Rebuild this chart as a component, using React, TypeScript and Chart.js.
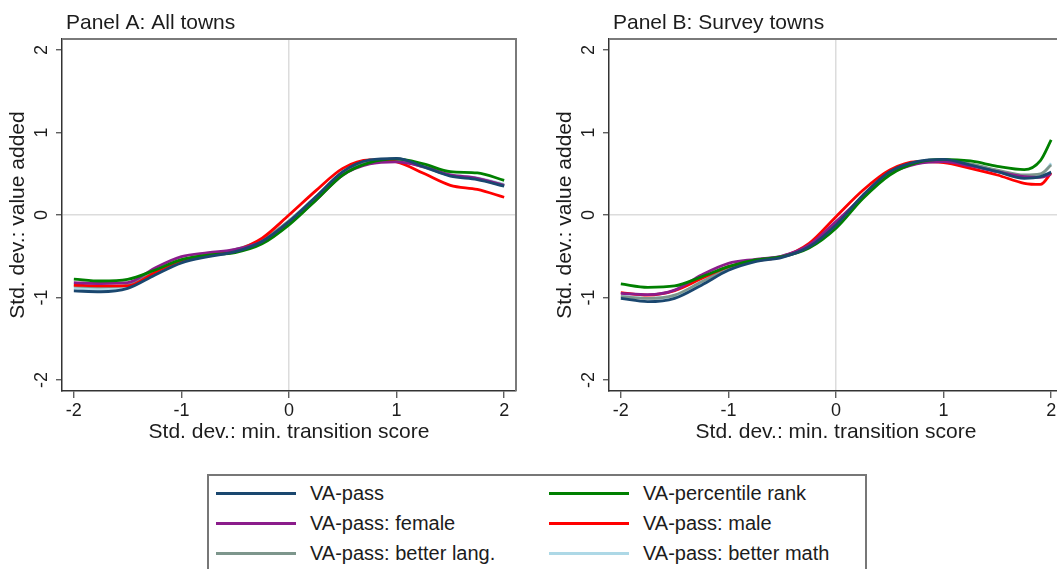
import React, { useEffect, useRef } from "react";
import { Chart, registerables } from "chart.js";

Chart.register(...registerables);

const FONT = "'Liberation Sans', Arial, Helvetica, sans-serif";
const TEXT = "#1c1c1c";

// ---- shared labels / ticks ----
const X_TICKS = [-2, -1, 0, 1, 2];
const Y_TICKS = [-2, -1, 0, 1, 2];
const X_TITLE = "Std. dev.: min. transition score";
const Y_TITLE = "Std. dev.: value added";
const PANEL_TITLES = ["Panel A: All towns", "Panel B: Survey towns"];

const SERIES_LABELS = [
  "VA-pass",
  "VA-percentile rank",
  "VA-pass: female",
  "VA-pass: male",
  "VA-pass: better lang.",
  "VA-pass: better math",
];
const SERIES_COLORS = ["#1a476f", "#008000", "#8b1c8b", "#ff0000", "#7d968c", "#add8e6"];

// ---- Panel A: All towns ----
const xA = [-2, -1.75, -1.5, -1.25, -1, -0.75, -0.5, -0.25, 0, 0.25, 0.5, 0.75, 1, 1.25, 1.5, 1.75, 2];
const aPass = [-0.92, -0.93, -0.89, -0.73, -0.58, -0.505, -0.445, -0.32, -0.08, 0.22, 0.525, 0.667, 0.687, 0.585, 0.47, 0.43, 0.35];
const aPct = [-0.776, -0.8, -0.78, -0.67, -0.54, -0.485, -0.455, -0.35, -0.12, 0.18, 0.485, 0.635, 0.68, 0.62, 0.525, 0.51, 0.42];
const aFemale = [-0.82, -0.83, -0.82, -0.645, -0.505, -0.457, -0.416, -0.32, -0.1, 0.18, 0.485, 0.62, 0.645, 0.585, 0.485, 0.445, 0.36];
const aMale = [-0.85, -0.86, -0.86, -0.7, -0.55, -0.49, -0.43, -0.28, 0.0, 0.295, 0.565, 0.667, 0.645, 0.505, 0.36, 0.31, 0.215];
const aLang = [-0.86, -0.87, -0.85, -0.69, -0.55, -0.48, -0.42, -0.3, -0.07, 0.22, 0.51, 0.645, 0.66, 0.58, 0.48, 0.44, 0.36];
const aMath = [-0.89, -0.9, -0.87, -0.71, -0.56, -0.49, -0.43, -0.31, -0.07, 0.22, 0.5, 0.64, 0.66, 0.585, 0.49, 0.45, 0.37];

// ---- Panel B: Survey towns ----
const xB = [-2, -1.75, -1.5, -1.25, -1, -0.75, -0.5, -0.25, 0, 0.25, 0.5, 0.75, 1, 1.25, 1.5, 1.75, 1.9, 2];
const bPass = [-1.01, -1.05, -1.01, -0.85, -0.67, -0.565, -0.513, -0.385, -0.12, 0.24, 0.525, 0.646, 0.675, 0.606, 0.525, 0.445, 0.465, 0.52];
const bPct = [-0.836, -0.877, -0.86, -0.75, -0.626, -0.545, -0.505, -0.4, -0.16, 0.2, 0.485, 0.634, 0.675, 0.655, 0.59, 0.55, 0.66, 0.91];
const bFemale = [-0.95, -0.965, -0.91, -0.727, -0.586, -0.537, -0.497, -0.364, -0.08, 0.222, 0.497, 0.618, 0.646, 0.594, 0.525, 0.465, 0.457, 0.497];
const bMale = [-0.94, -0.97, -0.917, -0.77, -0.626, -0.554, -0.505, -0.343, -0.02, 0.3, 0.545, 0.646, 0.634, 0.565, 0.485, 0.384, 0.37, 0.51];
const bLang = [-0.99, -1.01, -0.97, -0.81, -0.65, -0.55, -0.497, -0.385, -0.1, 0.23, 0.51, 0.634, 0.66, 0.62, 0.545, 0.485, 0.497, 0.606];
const bMath = [-0.98, -1.01, -0.98, -0.82, -0.65, -0.55, -0.497, -0.385, -0.1, 0.22, 0.5, 0.626, 0.646, 0.594, 0.525, 0.457, 0.473, 0.626];

const PANEL_A = [aPass, aPct, aFemale, aMale, aLang, aMath];
const PANEL_B = [bPass, bPct, bFemale, bMale, bLang, bMath];

const CANVAS_W = 540;
const CANVAS_H = 460;

function makeConfig(title: string, xs: number[], series: number[][]): any {
  const framePlugin = {
    id: "frameAndTitle",
    afterDatasetsDraw(chart: any) {
      const { ctx, chartArea } = chart;
      ctx.save();
      ctx.strokeStyle = "#7a7a7a";
      ctx.lineWidth = 2;
      ctx.beginPath();
      ctx.moveTo(chartArea.left, chartArea.top);
      ctx.lineTo(chartArea.right, chartArea.top);
      ctx.lineTo(chartArea.right, chartArea.bottom);
      ctx.stroke();
      ctx.restore();
    },
    afterDraw(chart: any) {
      const { ctx, chartArea } = chart;
      ctx.save();
      ctx.fillStyle = TEXT;
      ctx.font = `21px ${FONT}`;
      ctx.textAlign = "left";
      ctx.textBaseline = "middle";
      ctx.fillText(title, chartArea.left + 4, 23);
      ctx.restore();
    },
  };

  return {
    type: "line",
    data: {
      datasets: SERIES_LABELS.map((label, i) => ({
        label,
        data: xs.map((x, j) => ({ x, y: series[i][j] })),
        borderColor: SERIES_COLORS[i],
        backgroundColor: SERIES_COLORS[i],
        borderWidth: 2.8,
        pointRadius: 0,
        fill: false,
        cubicInterpolationMode: "monotone",
      })),
    },
    options: {
      animation: false,
      responsive: false,
      maintainAspectRatio: false,
      layout: { padding: { top: 39, right: CANVAS_W - 516, left: 0, bottom: 0 } },
      plugins: { legend: { display: false }, tooltip: { enabled: false } },
      scales: {
        x: {
          type: "linear",
          min: -2.11,
          max: 2.11,
          afterBuildTicks: (s: any) => {
            s.ticks = X_TICKS.map((v) => ({ value: v }));
          },
          afterFit: (s: any) => {
            s.height = 69;
          },
          ticks: { font: { size: 18, family: FONT }, color: TEXT, padding: 2, maxRotation: 0, autoSkip: false },
          grid: {
            color: (c: any) => (c.tick && c.tick.value === 0 ? "#dcdcdc" : "rgba(0,0,0,0)"),
            lineWidth: 1.5,
            tickColor: "#444",
            tickLength: 7,
            tickWidth: 1.2,
          },
          border: { display: true, color: "#333", width: 1.5 },
          title: {
            display: true,
            text: X_TITLE,
            font: { size: 21, family: FONT },
            color: TEXT,
            padding: { top: 0, bottom: 15 },
          },
        },
        y: {
          type: "linear",
          min: -2.133,
          max: 2.133,
          afterBuildTicks: (s: any) => {
            s.ticks = Y_TICKS.map((v) => ({ value: v }));
          },
          afterFit: (s: any) => {
            s.width = 62;
          },
          ticks: {
            font: { size: 18, family: FONT },
            color: TEXT,
            padding: 6,
            minRotation: 90,
            maxRotation: 90,
            crossAlign: "center",
            autoSkip: false,
          },
          grid: {
            color: (c: any) => (c.tick && c.tick.value === 0 ? "#dcdcdc" : "rgba(0,0,0,0)"),
            lineWidth: 1.5,
            tickColor: "#444",
            tickLength: 6,
            tickWidth: 1.2,
          },
          border: { display: true, color: "#333", width: 1.5 },
          title: {
            display: true,
            text: Y_TITLE,
            font: { size: 21, family: FONT },
            color: TEXT,
            padding: { top: 6, bottom: 0 },
          },
        },
      },
    },
    plugins: [framePlugin],
  };
}

function Panel({ title, xs, series, left }: { title: string; xs: number[]; series: number[][]; left: number }) {
  const ref = useRef<HTMLCanvasElement | null>(null);
  useEffect(() => {
    if (!ref.current) return;
    const chart = new Chart(ref.current, makeConfig(title, xs, series));
    return () => chart.destroy();
  }, [title, xs, series]);
  return (
    <canvas
      ref={ref}
      width={CANVAS_W}
      height={CANVAS_H}
      style={{ position: "absolute", left, top: 0, width: CANVAS_W, height: CANVAS_H }}
    />
  );
}

function Legend() {
  return (
    <div
      style={{
        position: "absolute",
        left: 207,
        top: 474,
        width: 656,
        height: 120,
        border: "2px solid #777",
        background: "#fff",
        fontFamily: FONT,
        fontSize: 20,
        color: TEXT,
      }}
    >
      {SERIES_LABELS.map((label, i) => {
        const col = i % 2;
        const row = Math.floor(i / 2);
        const baseX = col ? 340 : 7;
        const cy = 17 + row * 30;
        return (
          <React.Fragment key={label}>
            <div
              style={{
                position: "absolute",
                left: baseX,
                top: cy - 1.5,
                width: 80,
                height: 3,
                background: SERIES_COLORS[i],
              }}
            />
            <div
              style={{
                position: "absolute",
                left: baseX + 94,
                top: cy - 12,
                lineHeight: "24px",
                whiteSpace: "nowrap",
              }}
            >
              {label}
            </div>
          </React.Fragment>
        );
      })}
    </div>
  );
}

export default function App() {
  return (
    <div
      style={{
        position: "fixed",
        left: 0,
        top: 0,
        width: 1057,
        height: 569,
        overflow: "hidden",
        background: "#fff",
      }}
    >
      <Panel title={PANEL_TITLES[0]} xs={xA} series={PANEL_A} left={0} />
      <Panel title={PANEL_TITLES[1]} xs={xB} series={PANEL_B} left={547} />
      <Legend />
    </div>
  );
}
